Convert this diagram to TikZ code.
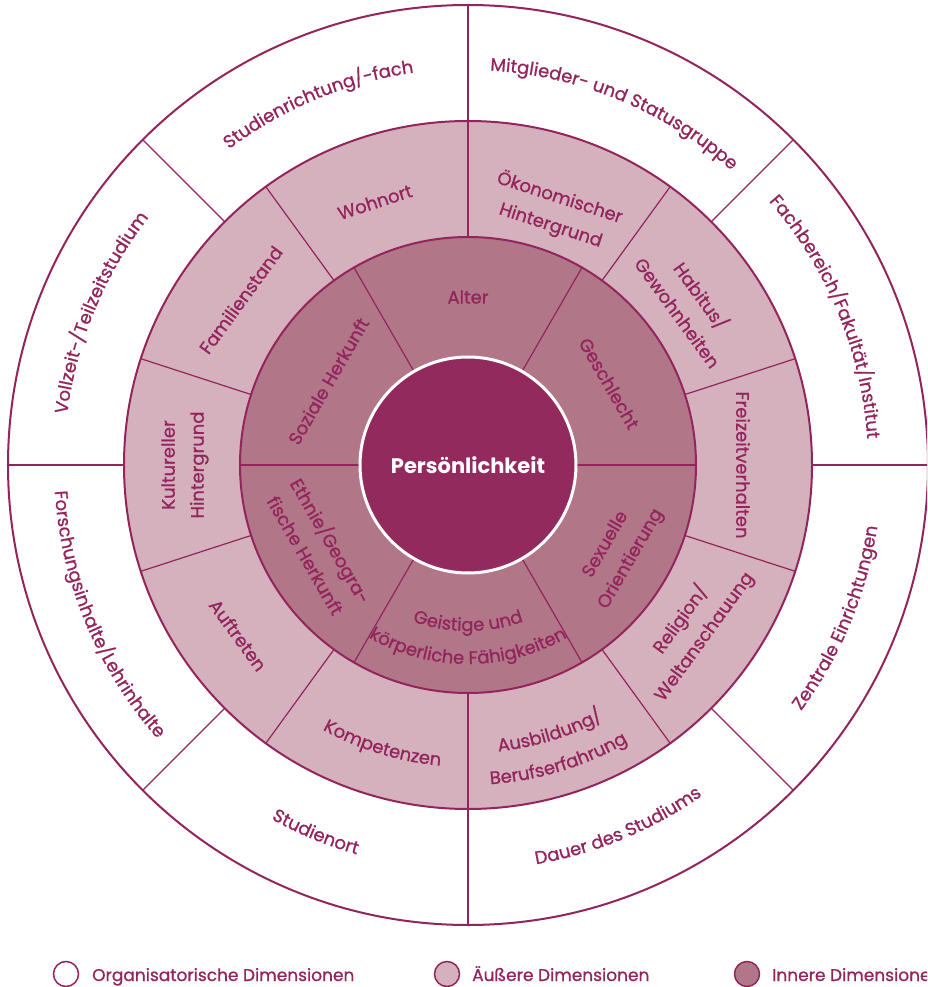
\documentclass[tikz,border=0pt]{standalone}
\usepackage{fontspec}
\setmainfont{Poppins}[UprightFeatures={FakeBold=0.8}]
\usepackage{xcolor}
\usepackage{tikz}
\usetikzlibrary{decorations.text}

\definecolor{wheelline}{HTML}{93245C}
\definecolor{wheelcore}{HTML}{922A5E}
\definecolor{wheelinner}{HTML}{B17688}
\definecolor{wheelouter}{HTML}{D4B1BC}
\newcommand{\labelfont}{\fontsize{18}{29}\selectfont}

\begin{document}
\begin{tikzpicture}[x=1pt, y=1pt,
  ring/.style={draw=wheelline, line width=2pt},
  spoke/.style={draw=wheelline, line width=1.2pt},
  seglabel/.style={text=wheelline, font=\labelfont, align=center, inner sep=0pt},
  arclabel/.style={decorate, decoration={text along path, text align=center,
      text color=wheelline, text={|\labelfont|#1}}},
  legenddot/.style={circle, draw=wheelline, line width=1.5pt, minimum size=25pt, inner sep=0pt},
  legendtext/.style={text=wheelline, font=\fontsize{17}{20}\selectfont, anchor=base west, inner sep=0pt}]
  \useasboundingbox (-468,-522) rectangle (459,465);
  \clip (-468,-522) rectangle (459,465);
  \fill[white] (-468,-522) rectangle (459,465);

  % filled rings
  \fill[wheelouter] (0,0) circle (344);
  \fill[wheelinner] (0,0) circle (228);

  % spokes: 8 outer, 10 middle, 6 inner segments
  \foreach \a in {0,45,...,315}
    \draw[spoke] (\a:344) -- (\a:460);
  \foreach \a in {18,54,...,342}
    \draw[spoke] (\a:228) -- (\a:344);
  \foreach \a in {0,60,...,300}
    \draw[spoke] (\a:108) -- (\a:228);

  \draw[ring] (0,0) circle (460);
  \draw[ring] (0,0) circle (344);
  \draw[ring] (0,0) circle (228);

  \node[circle, fill=wheelcore, draw=white, line width=3pt, minimum size=216pt,
    text=white, font=\fontsize{21}{24}\selectfont\bfseries] (core) at (0,0) {Persönlichkeit};

  % organisational dimensions (outer ring)
  \path[arclabel={Vollzeit-/Teilzeitstudium}] (197.5:404) arc[start angle=197.5, end angle=117.5, radius=404];
  \path[arclabel={Studienrichtung/-fach}] (152.5:396) arc[start angle=152.5, end angle=72.5, radius=396];
  \path[arclabel={Mitglieder- und Statusgruppe}] (107.5:395) arc[start angle=107.5, end angle=27.5, radius=395];
  \path[arclabel={Fachbereich/Fakultät/Institut}] (62.5:400) arc[start angle=62.5, end angle=-17.5, radius=400];
  \path[arclabel={Zentrale Einrichtungen}] (-62.5:414) arc[start angle=-62.5, end angle=17.5, radius=414];
  \path[arclabel={Dauer des Studiums}] (-107.5:405) arc[start angle=-107.5, end angle=-27.5, radius=405];
  \path[arclabel={Studienort}] (-152.5:405) arc[start angle=-152.5, end angle=-72.5, radius=405];
  \path[arclabel={Forschungsinhalte/Lehrinhalte}] (-197.5:414) arc[start angle=-197.5, end angle=-117.5, radius=414];

  % outer dimensions (middle ring)
  \node[seglabel, rotate=18] (wohnort) at (109.5:279) {Wohnort};
  \node[seglabel, rotate=-18] (oekonomie) at (71:268) {Ökonomischer\\Hintergrund};
  \node[seglabel, rotate=-54] (habitus) at (36:275) {Habitus/\\Gewohnheiten};
  \node[seglabel, rotate=-90] (freizeit) at (0:275) {Freizeitverhalten};
  \node[seglabel, rotate=54] (religion) at (-36:277) {Religion/\\Weltanschauung};
  \path[arclabel={Ausbildung/}] (-113:288) arc[start angle=-113, end angle=-33, radius=288];
  \path[arclabel={Berufserfahrung}] (-113:320) arc[start angle=-113, end angle=-33, radius=320];
  \path[arclabel={Kompetenzen}] (-147:302) arc[start angle=-147, end angle=-67, radius=302];
  \node[seglabel, rotate=-54] (auftreten) at (-143.5:286) {Auftreten};
  \node[seglabel, rotate=90] (kultur) at (180:283) {Kultureller\\Hintergrund};
  \node[seglabel, rotate=54] (familie) at (144:281) {Familienstand};

  % inner dimensions (inner ring)
  \node[seglabel] (alter) at (90:168) {Alter};
  \node[seglabel, rotate=-60] (geschlecht) at (30:163) {Geschlecht};
  \node[seglabel, rotate=60] (sexuell) at (-30:174) {Sexuelle\\Orientierung};
  \path[arclabel={Geistige und}] (-130:166) arc[start angle=-130, end angle=-50, radius=166];
  \path[arclabel={körperliche Fähigkeiten}] (-140:199) arc[start angle=-140, end angle=-40, radius=199];
  \node[seglabel, rotate=-60] (ethnie) at (-151:170) {Ethnie/Geogra-\\fische Herkunft};
  \node[seglabel, rotate=60] (sozial) at (149:163) {Soziale Herkunft};

  % legend
  \node[legenddot, fill=white] (legorg) at (-402,-509) {};
  \node[legendtext] (legorgtext) at (-376,-516) {Organisatorische Dimensionen};
  \node[legenddot, fill=wheelouter] (legout) at (-21,-509) {};
  \node[legendtext] (legouttext) at (4,-516) {Äußere Dimensionen};
  \node[legenddot, fill=wheelinner] (legin) at (279,-509) {};
  \node[legendtext] (legintext) at (304,-516) {Innere Dimensionen};
\end{tikzpicture}
\end{document}
